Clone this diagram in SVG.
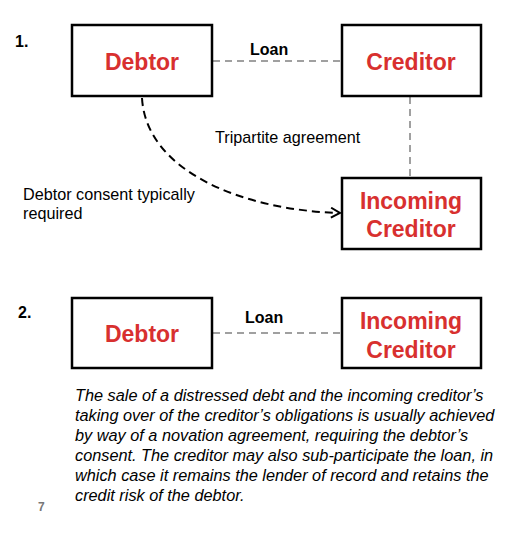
<svg xmlns="http://www.w3.org/2000/svg" width="528" height="534" viewBox="0 0 528 534">
<style>
.box{fill:#fff;stroke:#000;stroke-width:2.5}
.nt{font-family:"Liberation Sans",Arial,sans-serif;font-weight:bold;font-size:23px;fill:#D8302F;text-anchor:middle}
.lb{font-family:"Liberation Sans",Arial,sans-serif;font-size:16.2px;fill:#000}
.b{font-weight:bold;font-size:16px}
.gl{stroke:#A0A0A0;stroke-width:2;stroke-dasharray:7,5;fill:none}
.bl{stroke:#000;stroke-width:2;stroke-dasharray:8,5;fill:none}
.it{font-family:"Liberation Sans",Arial,sans-serif;font-size:16.3px;font-style:italic;fill:#000}
</style>
<defs>
<marker id="ar" markerWidth="12" markerHeight="12" refX="10" refY="6" orient="auto" markerUnits="userSpaceOnUse">
<path d="M1,1 L10,6 L1,11" fill="none" stroke="#000" stroke-width="2"/>
</marker>
</defs>
<rect width="528" height="534" fill="#fff"/>
<g id="connectors">
<line class="gl" x1="213" y1="61" x2="342" y2="61"/>
<line class="gl" x1="410" y1="97" x2="410" y2="178"/>
<path class="bl" d="M142,98 C146,170 240,210 340,213" marker-end="url(#ar)"/>
<line class="gl" x1="213" y1="333" x2="342" y2="333"/>
</g>
<g id="debtor1"><rect class="box" x="72" y="25" width="140" height="71"/><text class="nt" x="142" y="70">Debtor</text></g>
<g id="creditor1"><rect class="box" x="342" y="25" width="139" height="71"/><text class="nt" x="411" y="70">Creditor</text></g>
<g id="incoming1"><rect class="box" x="342" y="178" width="139" height="71"/><text class="nt" x="411" y="209">Incoming</text><text class="nt" x="411" y="237">Creditor</text></g>
<g id="debtor2"><rect class="box" x="72" y="298" width="140" height="70"/><text class="nt" x="142" y="342">Debtor</text></g>
<g id="incoming2"><rect class="box" x="342" y="298" width="139" height="70"/><text class="nt" x="411" y="329">Incoming</text><text class="nt" x="411" y="358">Creditor</text></g>
<g id="labels">
<text class="lb b" x="15" y="47">1.</text>
<text class="lb b" x="250" y="55">Loan</text>
<text class="lb" x="215" y="143">Tripartite agreement</text>
<text class="lb" x="23" y="200">Debtor consent typically</text>
<text class="lb" x="23" y="219">required</text>
<text class="lb b" x="18" y="318">2.</text>
<text class="lb b" x="245" y="323">Loan</text>
<text class="it" x="75" y="401">The sale of a distressed debt and the incoming creditor’s</text>
<text class="it" x="75" y="421">taking over of the creditor’s obligations is usually achieved</text>
<text class="it" x="75" y="441">by way of a novation agreement, requiring the debtor’s</text>
<text class="it" x="75" y="461">consent. The creditor may also sub-participate the loan, in</text>
<text class="it" x="75" y="481">which case it remains the lender of record and retains the</text>
<text class="it" x="75" y="501">credit risk of the debtor.</text>
<text x="38" y="511" font-family="Liberation Sans,Arial,sans-serif" font-size="12" font-weight="bold" fill="#777">7</text>
</g>
</svg>
